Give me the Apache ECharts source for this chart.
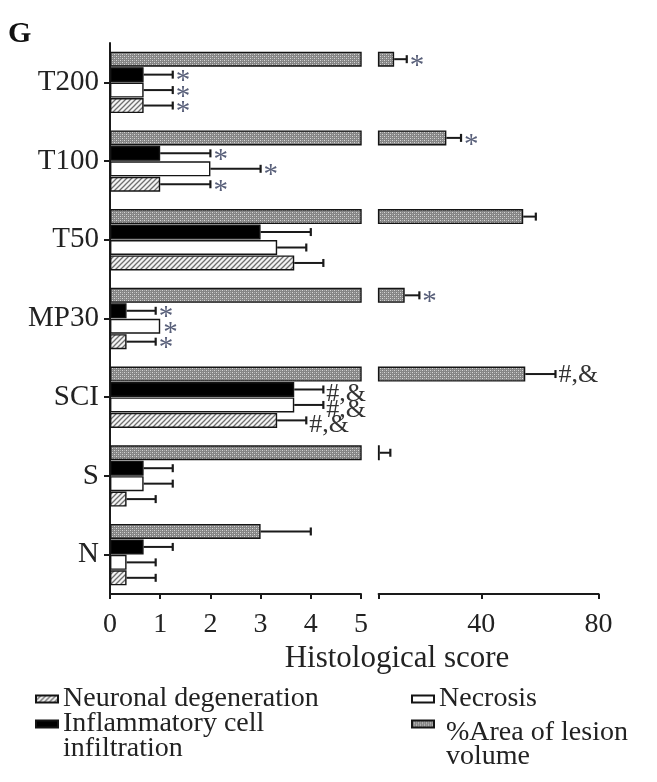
<!DOCTYPE html>
<html>
<head>
<meta charset="utf-8">
<script src="https://cdn.jsdelivr.net/npm/echarts@6/dist/echarts.min.js"></script>
<style>
html,body{margin:0;padding:0;background:#fff;}
#c{width:657px;height:782px;}
</style>
</head>
<body>
<div id="c"></div>
<script>
// ---- data ----
const categories = ['T200', 'T100', 'T50', 'MP30', 'SCI', 'S', 'N'];
const lesion = [10.3, 28.1, 54.3, 13.9, 55.0, 5.4, 3.0];
const lesionErr = [4.3, 5.0, 4.3, 5.0, 10.3, 3.6, 1.0];
const inflammatory = [0.67, 1.0, 3.0, 0.33, 3.67, 0.67, 0.67];
const inflammatoryErr = [0.58, 1.0, 1.0, 0.58, 0.58, 0.58, 0.58];
const necrosis = [0.67, 2.0, 3.33, 1.0, 3.67, 0.67, 0.33];
const necrosisErr = [0.58, 1.0, 0.58, 0.0, 0.58, 0.58, 0.58];
const neuronal = [0.67, 1.0, 3.67, 0.33, 3.33, 0.33, 0.33];
const neuronalErr = [0.58, 1.0, 0.58, 0.58, 0.58, 0.58, 0.58];
const lesionMark = ['*', '*', '', '*', '#,&', '', ''];
const inflammatoryMark = ['*', '*', '', '*', '#,&', '', ''];
const necrosisMark = ['*', '*', '', '*', '#,&', '', ''];
const neuronalMark = ['*', '*', '', '*', '#,&', '', ''];
const leftTicks = [0, 1, 2, 3, 4, 5];
const rightTicks = [5, 40, 80];
const rightTickLabels = [40, 80];

const names = ['%Area of lesion volume', 'Inflammatory cell infiltration', 'Necrosis', 'Neuronal degeneration'];
const values = [lesion, inflammatory, necrosis, neuronal];
const errors = [lesionErr, inflammatoryErr, necrosisErr, neuronalErr];
const marks = [lesionMark, inflammatoryMark, necrosisMark, neuronalMark];

// ---- patterns ----
function dotPattern() {
  const c = document.createElement('canvas');
  c.width = 4; c.height = 4;
  const g = c.getContext('2d');
  g.fillStyle = '#858585'; g.fillRect(0, 0, 4, 4);
  g.fillStyle = '#d6d6d6';
  g.fillRect(0, 0, 1, 1); g.fillRect(2, 2, 1, 1);
  g.fillStyle = '#adadad';
  g.fillRect(2, 0, 1, 1); g.fillRect(0, 2, 1, 1);
  return c;
}
function hatchPattern() {
  const c = document.createElement('canvas');
  c.width = 5; c.height = 5;
  const g = c.getContext('2d');
  g.fillStyle = '#f4f4f4'; g.fillRect(0, 0, 5, 5);
  g.strokeStyle = '#6e6e6e'; g.lineWidth = 1.3;
  g.beginPath();
  g.moveTo(-1, 6); g.lineTo(6, -1);
  g.moveTo(-1, 1); g.lineTo(1, -1);
  g.moveTo(4, 6); g.lineTo(6, 4);
  g.stroke();
  return c;
}
const fills = [
  { image: dotPattern(), repeat: 'repeat' },
  '#000000',
  '#ffffff',
  { image: hatchPattern(), repeat: 'repeat' }
];

const FONT = 'Liberation Serif';
const TXT = '#222222';
const BAR_W = 15;
const GAP_PCT = 0.03;

function errorRender(lo, hi) {
  return function (params, api) {
    const i = params.dataIndex;
    const center = api.coord([lo, i])[1];
    const W = 4 * BAR_W * (1 + GAP_PCT) - BAR_W * GAP_PCT;
    const children = [];
    for (let k = 0; k < 4; k++) {
      const v = values[k][i], e = errors[k][i];
      const end = v + e;
      const inside = (lo === 0) ? (end <= hi) : (v > lo);
      if (!inside) continue;
      const y = center - W / 2 + k * BAR_W * (1 + GAP_PCT) + BAR_W / 2;
      const x1 = api.coord([v, i])[0];
      const x2 = api.coord([end, i])[0];
      if (e > 0) {
        children.push({ type: 'line', shape: { x1: x1, y1: y, x2: x2, y2: y }, style: { stroke: '#1a1a1a', lineWidth: 2 } });
        children.push({ type: 'line', shape: { x1: x2, y1: y - 4, x2: x2, y2: y + 4 }, style: { stroke: '#1a1a1a', lineWidth: 2.2 } });
      }
      const m = marks[k][i];
      if (m) {
        const star = m === '*';
        children.push({
          type: 'text',
          x: x2 + 3,
          y: y + (star ? 7 : (k === 0 ? 1 : 5)),
          style: {
            text: m,
            fill: star ? '#59607a' : '#333333',
            font: (star ? '29px ' : '26px ') + '"' + FONT + '"',
            verticalAlign: 'middle',
            align: 'left'
          }
        });
      }
    }
    return { type: 'group', children: children };
  };
}

const series = [];
[0, 1].forEach(function (gi) {
  for (let k = 0; k < 4; k++) {
    series.push({
      type: 'bar',
      name: names[k],
      xAxisIndex: gi,
      yAxisIndex: gi,
      data: values[k],
      barWidth: BAR_W,
      barGap: (GAP_PCT * 100) + '%',
      clip: true,
      silent: true,
      itemStyle: { color: fills[k], borderColor: '#141414', borderWidth: 1.4 }
    });
  }
  series.push({
    type: 'custom',
    name: 'err' + gi,
    xAxisIndex: gi,
    yAxisIndex: gi,
    silent: true,
    data: categories.map(function (c, i) { return [gi === 0 ? 0 : 5, i]; }),
    encode: { x: 0, y: 1 },
    renderItem: errorRender(gi === 0 ? 0 : 5, gi === 0 ? 5 : 80),
    z: 5
  });
});

const LEG_FS = 28;
function legendBlock(name, left, top, label, rich) {
  const ts = { fontFamily: FONT, fontSize: LEG_FS, color: TXT, lineHeight: 26 };
  if (rich) ts.rich = rich;
  return {
    data: [name],
    left: left,
    top: top,
    orient: 'vertical',
    padding: 0,
    itemWidth: 22,
    itemHeight: 7,
    icon: 'rect',
    selectedMode: false,
    formatter: function () { return label; },
    textStyle: ts
  };
}
const richLeft = {
  s: { fontSize: 8, lineHeight: 24, fontFamily: FONT },
  t: { fontSize: LEG_FS, lineHeight: 25, fontFamily: FONT, color: TXT }
};
const richRight = {
  s: { fontSize: 8, lineHeight: 42, fontFamily: FONT },
  t: { fontSize: LEG_FS, lineHeight: 24, fontFamily: FONT, color: TXT, padding: [0, 0, 0, 7] }
};

const axisLabelStyle = { fontFamily: FONT, fontSize: 28, color: TXT };

const option = {
  animation: false,
  backgroundColor: '#ffffff',
  grid: [
    { left: 110, top: 43, width: 251, height: 551, containLabel: false },
    { left: 378.6, top: 43, width: 220, height: 551, containLabel: false }
  ],
  xAxis: [
    {
      type: 'value', gridIndex: 0, min: 0, max: 5, interval: 1,
      axisLine: { show: true, lineStyle: { color: '#1a1a1a', width: 2 } },
      axisTick: { show: true, length: 5, lineStyle: { color: '#1a1a1a', width: 2 }, customValues: leftTicks },
      axisLabel: Object.assign({ margin: 17, customValues: leftTicks }, axisLabelStyle),
      splitLine: { show: false }
    },
    {
      type: 'value', gridIndex: 1, min: 5, max: 80,
      axisLine: { show: true, lineStyle: { color: '#1a1a1a', width: 2 } },
      axisTick: { show: true, length: 5, lineStyle: { color: '#1a1a1a', width: 2 }, customValues: rightTicks },
      axisLabel: Object.assign({ margin: 17, customValues: rightTickLabels }, axisLabelStyle),
      splitLine: { show: false }
    }
  ],
  yAxis: [
    {
      type: 'category', gridIndex: 0, data: categories, inverse: true,
      axisLine: { show: true, lineStyle: { color: '#1a1a1a', width: 2 } },
      axisTick: { show: true, alignWithLabel: true, length: 6, lineStyle: { color: '#1a1a1a', width: 2 } },
      axisLabel: Object.assign({ margin: 11, interval: 0 }, axisLabelStyle, { fontSize: 29 })
    },
    {
      type: 'category', gridIndex: 1, data: categories, inverse: true, show: false
    }
  ],
  legend: [
    legendBlock('Neuronal degeneration', 35, 685, 'Neuronal degeneration', null),
    legendBlock('Inflammatory cell infiltration', 35, 687, '{s| }\n{t|Inflammatory cell}\n{t|infiltration}', richLeft),
    legendBlock('Necrosis', 411, 685, 'Necrosis', null),
    legendBlock('%Area of lesion volume', 411, 679, '{s| }\n{t|%Area of lesion}\n{t|volume}', richRight)
  ],
  graphic: [
    { type: 'text', left: 8, top: 19, style: { text: 'G', font: 'bold 30px "' + FONT + '"', fill: '#111' } },
    { type: 'text', x: 397, y: 659, style: { text: 'Histological score', font: '31px "' + FONT + '"', fill: TXT, align: 'center', verticalAlign: 'middle' } }
  ],
  series: series
};

const chart = echarts.init(document.getElementById('c'), null, { renderer: 'canvas' });
chart.setOption(option);
</script>
</body>
</html>
